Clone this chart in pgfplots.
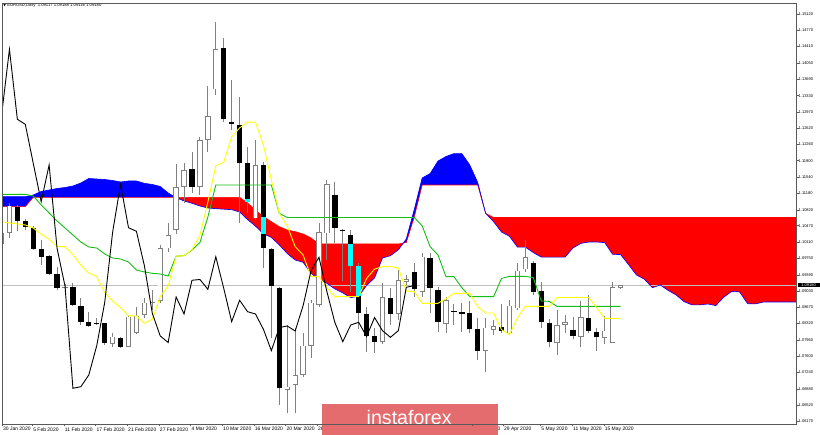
\documentclass[border=0pt]{standalone}
\usepackage{pgfplots}
\pgfplotsset{compat=1.18}
\usepackage{pgfplotstable}
\usepgfplotslibrary{fillbetween}
\usepackage{fontspec}
\setmainfont{Liberation Sans}
\newfontfamily\dejavu{DejaVu Sans}
\definecolor{wick}{RGB}{128,128,128}
\definecolor{kij}{RGB}{20,190,20}
\definecolor{tenk}{RGB}{255,255,0}
\definecolor{wm}{RGB}{228,108,110}
\definecolor{frm}{RGB}{90,90,90}
\definecolor{cur}{RGB}{192,192,192}
\definecolor{cy}{RGB}{0,255,255}
\definecolor{cred}{RGB}{255,0,0}
\definecolor{cblue}{RGB}{0,0,255}

\pgfplotstableread{
i o h l c
0 1.10067 1.10353 1.10023 1.10302
1 1.10309 1.10962 1.10199 1.10912
8 1.09110 1.09187 1.09055 1.09128
14 1.07861 1.08116 1.07801 1.08028
16 1.07808 1.08505 1.07794 1.08468
17 1.08109 1.08688 1.08089 1.08490
18 1.08505 1.08872 1.08439 1.08776
19 1.08769 1.09055 1.08615 1.08784
20 1.08809 1.10045 1.08776 1.09972
21 1.09972 1.10522 1.09891 1.10265
22 1.10375 1.11827 1.10287 1.11310
23 1.11328 1.11849 1.10969 1.11695
25 1.11328 1.12428 1.11145 1.12355
26 1.12355 1.13543 1.12097 1.12883
27 1.13470 1.14958 1.13345 1.14350
32 1.10632 1.12355 1.10595 1.11805
36 1.06855 1.08285 1.06342 1.06928
37 1.06965 1.08209 1.06342 1.07185
38 1.07185 1.08109 1.07148 1.07830
39 1.07830 1.08835 1.07552 1.08776
40 1.08725 1.10522 1.08688 1.10324
41 1.10302 1.11475 1.09715 1.11381
48 1.07909 1.09216 1.07867 1.08901
50 1.08527 1.09495 1.08395 1.09269
51 1.09238 1.09385 1.09165 1.09286
53 1.09018 1.09862 1.08908 1.09788
56 1.08307 1.08908 1.08102 1.08829
61 1.07720 1.08432 1.07241 1.08229
62 1.08175 1.08395 1.08065 1.08263
64 1.08102 1.08835 1.08065 1.08710
65 1.08652 1.09642 1.08615 1.09480
66 1.09510 1.10155 1.09451 1.09774
70 1.07896 1.08615 1.07625 1.08285
71 1.08285 1.08505 1.08116 1.08344
73 1.08021 1.08813 1.07808 1.08450
76 1.07993 1.08483 1.07867 1.08160
77 1.07895 1.09238 1.07889 1.09114
78 1.09095 1.09165 1.09087 1.09154
}\bull

\pgfplotstableread{
i o h l c
2 1.10888 1.10925 1.10353 1.10580
3 1.10573 1.10617 1.10375 1.10434
4 1.10413 1.10463 1.09935 1.09957
5 1.09957 1.10155 1.09605 1.09774
6 1.09803 1.09825 1.09385 1.09407
7 1.09400 1.09568 1.09055 1.09092
9 1.09121 1.09202 1.08703 1.08725
10 1.08703 1.08872 1.08285 1.08358
11 1.08344 1.08578 1.08241 1.08270
12 1.08329 1.08439 1.08285 1.08300
13 1.08318 1.08329 1.07845 1.07882
15 1.08006 1.08028 1.07772 1.07808
24 1.11710 1.12097 1.11183 1.11328
28 1.14386 1.14592 1.12761 1.12810
29 1.12761 1.13675 1.12575 1.12700
30 1.12678 1.13308 1.10536 1.11842
31 1.11842 1.12208 1.10742 1.10998
33 1.11805 1.11871 1.09532 1.09972
34 1.09950 1.09979 1.07993 1.09143
35 1.09093 1.09121 1.06525 1.06892
42 1.11145 1.11420 1.10078 1.10426
43 1.10375 1.10397 1.09253 1.10346
44 1.10265 1.10375 1.09000 1.09590
45 1.09590 1.09653 1.08197 1.08542
46 1.08534 1.08670 1.07698 1.08043
47 1.08047 1.08209 1.07665 1.07900
49 1.08872 1.09093 1.08285 1.08527
52 1.09458 1.09642 1.08908 1.09070
54 1.09752 1.09862 1.08542 1.09092
55 1.09055 1.09128 1.08137 1.08358
57 1.08600 1.08747 1.08285 1.08578
58 1.08560 1.08762 1.08137 1.08527
59 1.08542 1.08820 1.08102 1.08190
60 1.08190 1.08432 1.07515 1.07720
63 1.08248 1.08751 1.08102 1.08153
67 1.09642 1.09700 1.08945 1.09018
68 1.09033 1.09238 1.08229 1.08340
69 1.08336 1.08410 1.07794 1.07918
72 1.08175 1.08468 1.07970 1.08032
74 1.08433 1.08945 1.08102 1.08160
75 1.08137 1.08209 1.07720 1.08014
}\bear

\pgfplotstableread{
i lo hi
31 1.10998 1.11060
33 1.10289 1.10668
44 1.09590 1.10067
45 1.08916 1.09590
}\cyanpart

\pgfplotstableread{
i v
0 1.10558
1 1.10529
2 1.10507
3 1.10485
4 1.10419
5 1.10283
6 1.10173
7 1.10008
8 1.10008
9 1.09832
10 1.09605
11 1.09429
12 1.09352
13 1.09000
14 1.08813
15 1.08670
16 1.08487
17 1.08487
18 1.08322
19 1.08413
20 1.08908
21 1.09147
22 1.09799
23 1.09810
24 1.09946
25 1.10254
26 1.10991
27 1.11785
28 1.11867
29 1.12423
30 1.12621
31 1.12747
32 1.12747
33 1.12245
34 1.11475
35 1.10741
36 1.10467
37 1.10008
38 1.09825
39 1.09348
40 1.09348
41 1.09106
42 1.08908
43 1.08908
44 1.08908
45 1.08908
46 1.09310
47 1.09513
48 1.09570
49 1.09570
50 1.09541
51 1.09031
52 1.09020
53 1.08762
54 1.08762
55 1.08762
56 1.08864
57 1.08982
58 1.08982
59 1.08982
60 1.08688
61 1.08549
62 1.08549
63 1.08182
64 1.08072
65 1.08439
66 1.08694
67 1.08694
68 1.08694
69 1.08694
70 1.08890
71 1.08890
72 1.08890
73 1.08890
74 1.08890
75 1.08661
76 1.08430
77 1.08430
78 1.08430
}\tenkan

\pgfplotstableread{
i v
0 1.11160
1 1.11160
2 1.11160
3 1.11160
4 1.11123
5 1.10925
6 1.10749
7 1.10573
8 1.10419
9 1.10265
10 1.10111
11 1.10001
12 1.09979
13 1.09847
14 1.09759
15 1.09737
16 1.09671
17 1.09495
18 1.09451
19 1.09422
20 1.09407
21 1.09363
22 1.09799
23 1.09810
24 1.09935
25 1.10100
26 1.10657
27 1.11365
28 1.11365
29 1.11365
30 1.11365
31 1.11365
32 1.11365
33 1.11365
34 1.11365
35 1.10740
36 1.10650
37 1.10650
38 1.10650
39 1.10650
40 1.10650
41 1.10650
42 1.10650
43 1.10650
44 1.10650
45 1.10650
46 1.10650
47 1.10650
48 1.10650
49 1.10650
50 1.10650
51 1.10650
52 1.10650
53 1.10467
54 1.10008
55 1.09825
56 1.09348
57 1.09348
58 1.09106
59 1.08908
60 1.08908
61 1.08908
62 1.08908
63 1.09310
64 1.09354
65 1.09354
66 1.09354
67 1.09328
68 1.08815
69 1.08804
70 1.08694
71 1.08694
72 1.08694
73 1.08694
74 1.08694
75 1.08694
76 1.08694
77 1.08694
78 1.08694
}\kijun

\pgfplotstableread{
i v
0 1.12883
1 1.14350
2 1.12810
3 1.12700
4 1.11842
5 1.10998
6 1.11805
7 1.09972
8 1.09143
9 1.06892
10 1.06928
11 1.07185
12 1.07830
13 1.08776
14 1.10324
15 1.11381
16 1.10426
17 1.10346
18 1.09590
19 1.08542
20 1.08043
21 1.07900
22 1.08901
23 1.08527
24 1.09269
25 1.09286
26 1.09070
27 1.09788
28 1.09092
29 1.08358
30 1.08829
31 1.08578
32 1.08527
33 1.08190
34 1.07720
35 1.08229
36 1.08263
37 1.08153
38 1.08710
39 1.09480
40 1.09774
41 1.09018
42 1.08340
43 1.07918
44 1.08285
45 1.08344
46 1.08032
47 1.08450
48 1.08160
49 1.08014
50 1.08160
51 1.09114
52 1.09154
}\chikou

\pgfplotstableread{
i v
0 1.11108
1 1.11108
2 1.11108
3 1.11108
4 1.11145
5 1.11222
6 1.11255
7 1.11288
8 1.11310
9 1.11343
10 1.11409
11 1.11508
12 1.11497
13 1.11486
14 1.11464
15 1.11431
16 1.11453
17 1.11453
18 1.11402
19 1.11376
20 1.11332
21 1.11189
22 1.11086
23 1.11013
24 1.10962
25 1.10903
26 1.10859
27 1.10844
28 1.10833
29 1.10822
30 1.10771
31 1.10604
32 1.10461
33 1.10289
34 1.10212
35 1.10047
36 1.09858
37 1.09715
38 1.09664
39 1.09422
40 1.09286
41 1.09202
42 1.09079
43 1.08991
44 1.08886
45 1.08916
46 1.09156
47 1.09319
48 1.09759
49 1.09810
50 1.09939
51 1.10177
52 1.10824
53 1.11519
54 1.11616
55 1.11893
56 1.11992
57 1.12056
58 1.12056
59 1.11805
60 1.11420
61 1.10740
62 1.10558
63 1.10329
64 1.10236
65 1.09999
66 1.09999
67 1.09878
68 1.09779
69 1.09779
70 1.09779
71 1.09779
72 1.09979
73 1.10080
74 1.10111
75 1.10111
76 1.10096
77 1.09840
78 1.09834
79 1.09614
80 1.09385
81 1.09293
82 1.09106
83 1.09165
84 1.09044
85 1.08945
86 1.08798
87 1.08727
88 1.08727
89 1.08747
90 1.08712
91 1.08897
92 1.09024
93 1.09011
94 1.08754
95 1.08749
96 1.08791
97 1.08791
98 1.08791
99 1.08791
100 1.08791
101 1.08791
}\spanA

\pgfplotstableread{
i v
0 1.10888
1 1.10888
2 1.10888
3 1.10888
4 1.11094
30 1.11094
31 1.10969
32 1.10815
33 1.10668
34 1.10558
35 1.10448
36 1.10375
37 1.10338
38 1.10287
39 1.10199
40 1.10067
50 1.10067
51 1.10100
52 1.10657
53 1.11365
60 1.11365
61 1.10740
62 1.10650
101 1.10650
}\spanB

\pgfplotsset{
  candle/.style 2 args={draw=none, mark=none, forget plot,
    error bars/.cd, y dir=plus, y explicit, error mark=none,
    error bar style={draw=#1, line width=#2}},
}

\begin{document}
\begin{tikzpicture}
\begin{axis}[
  at={(2pt,11pt)}, anchor=south west,
  scale only axis, width=794pt, height=421pt,
  xmin=0.063, xmax=100.1, ymin=1.06107, ymax=1.15369,
  axis on top,
  axis line style={draw=frm, line width=0.7pt},
  ytick pos=right, xtick pos=bottom,
  tick align=outside, major tick length=2.5pt,
  tick style={draw=frm, line width=0.5pt},
  ytick={1.06170,1.06520,1.06880,1.07240,1.07600,1.07960,1.08320,1.08670,1.09030,1.09390,1.09750,1.10110,1.10470,1.10820,1.11180,1.11540,1.11900,1.12260,1.12620,1.12970,1.13330,1.13690,1.14050,1.14410,1.14770,1.15120},
  yticklabels={1.06170,1.06520,1.06880,1.07240,1.07600,1.07960,1.08320,1.08670,1.09030,1.09390,1.09750,1.10110,1.10470,1.10820,1.11180,1.11540,1.11900,1.12260,1.12620,1.12970,1.13330,1.13690,1.14050,1.14410,1.14770,1.15120},
  yticklabel style={font=\fontsize{4}{4}\selectfont, anchor=west, inner sep=0pt, xshift=0pt},
  xtick={0.07,3.88,7.87,11.86,15.84,19.84,23.83,27.81,31.8,35.79,39.77,59.3,63.2,67.9,71.9,75.88},
  xticklabels={30 Jan 2020,5 Feb 2020,11 Feb 2020,17 Feb 2020,21 Feb 2020,27 Feb 2020,4 Mar 2020,10 Mar 2020,16 Mar 2020,20 Mar 2020,26 Mar 2020,23 Apr 2020,29 Apr 2020,5 May 2020,11 May 2020,15 May 2020},
  xticklabel style={font=\fontsize{5}{5}\selectfont, anchor=north west, inner sep=0pt, xshift=0.8pt, yshift=-0.8pt},
]
% current price line
\addplot[cur, line width=0.6pt, forget plot] coordinates {(-1,1.09158) (102,1.09158)};
% cloud
\addplot[name path=SA, draw=none, forget plot] table[x=i, y=v] {\spanA};
\addplot[name path=SB, draw=none, forget plot] table[x=i, y=v] {\spanB};
\addplot[fill=cblue, draw=none] fill between[of=SA and SB, soft clip={domain=0:21.92}];
\addplot[fill=cred, draw=none] fill between[of=SA and SB, soft clip={domain=21.92:50.62}];
\addplot[fill=cblue, draw=none] fill between[of=SA and SB, soft clip={domain=50.62:61}];
\addplot[fill=cred, draw=none] fill between[of=SA and SB, soft clip={domain=61:102}];
\addplot[cred, line width=0.6pt] table[x=i, y=v] {\spanB};
\addplot[cblue, line width=0.6pt] table[x=i, y=v] {\spanA};
% wicks
\addplot[candle={wick}{0.9pt}] table[x=i, y=l, y error plus expr=\thisrow{h}-\thisrow{l}] {\bull};
\addplot[candle={wick}{0.9pt}] table[x=i, y=l, y error plus expr=\thisrow{h}-\thisrow{l}] {\bear};
% bull bodies
\addplot[candle={wick}{5.3pt}] table[x=i, y=o, y error plus expr=\thisrow{c}-\thisrow{o}] {\bull};
\addplot[candle={white}{3.7pt}] table[x=i, y expr=\thisrow{o}+0.00017, y error plus expr={max(\thisrow{c}-\thisrow{o}-0.00034,0)}] {\bull};
% bear bodies
\addplot[candle={black}{5.3pt}] table[x=i, y=c, y error plus expr=\thisrow{o}-\thisrow{c}] {\bear};
\addplot[candle={cy}{5.3pt}] table[x=i, y=lo, y error plus expr=\thisrow{hi}-\thisrow{lo}] {\cyanpart};
% ichimoku lines
\addplot[kij, line width=0.9pt] table[x=i, y=v] {\kijun};
\addplot[tenk, line width=0.9pt] table[x=i, y=v] {\tenkan};
\addplot[black, line width=0.9pt] table[x=i, y=v] {\chikou};
\end{axis}
% header and price box
\node[anchor=west, inner sep=0pt, font=\fontsize{4.2}{4.2}\selectfont] at (3.2pt,430pt) {{\dejavu\fontsize{3.5}{3.5}\selectfont ▼}\ EURUSD,Daily\ \ 1.09117 1.09188 1.09116 1.09180};
\fill[black] (797.5pt,147.5pt) rectangle (819.5pt,152.3pt);
\node[text=white, inner sep=0pt, font=\fontsize{4}{4}\selectfont] at (808.5pt,149.9pt) {1.09180};
% watermark
\fill[wm] (321.7pt,0pt) rectangle (498pt,31pt);
\node[anchor=base, text=white, inner sep=0pt, font=\fontsize{19.6}{19.6}\selectfont] at (409.2pt,10pt) {instaforex};
\pgfresetboundingbox
\path[use as bounding box] (0,0) rectangle (820pt,435pt);
\end{tikzpicture}
\end{document}
